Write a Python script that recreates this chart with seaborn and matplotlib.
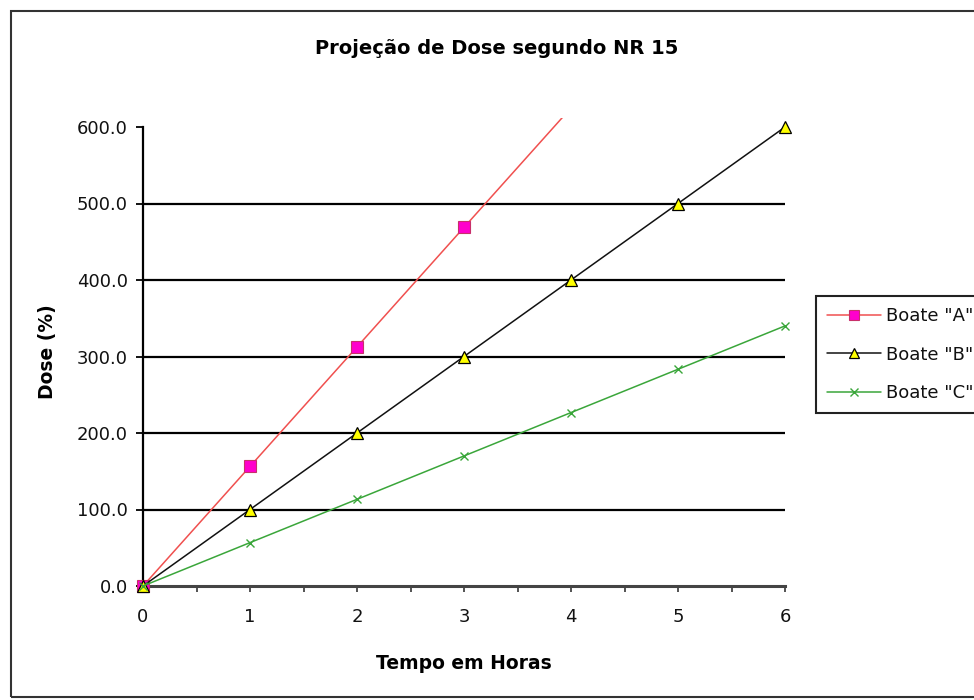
import matplotlib
matplotlib.use("Agg")
import matplotlib.pyplot as plt
import seaborn as sns
import pandas as pd
from matplotlib.lines import Line2D
from matplotlib.patches import Rectangle
from matplotlib.ticker import MultipleLocator, FormatStrFormatter

# ---- data ----
hours = [0, 1, 2, 3, 4, 5, 6]
hours_a = [0, 1, 2, 3, 4]
dose_a = [0.0, 156.3, 312.5, 468.8, 625.0]   # last value runs past the top of the plot
dose_b = [0.0, 100.0, 200.0, 300.0, 400.0, 500.0, 600.0]
dose_c = [0.0, 56.7, 113.3, 170.0, 226.7, 283.3, 340.0]
labels = ['Boate "A"', 'Boate "B"', 'Boate "C"']
title = "Projeção de Dose segundo NR 15"
xlabel = "Tempo em Horas"
ylabel = "Dose (%)"

sns.set_style("white")
plt.rcParams['font.family'] = ['DejaVu Sans']
plt.rcParams['text.color'] = 'black'
plt.rcParams['axes.labelcolor'] = 'black'

W, H = 974, 700
fig = plt.figure(figsize=(W / 100, H / 100), dpi=100)
fig.patch.set_facecolor("white")

# outer chart border
fig.add_artist(Rectangle((11 / W, 1 - 697 / H), (995 - 11) / W, (697 - 11) / H,
                         transform=fig.transFigure, fill=False,
                         edgecolor="#333333", linewidth=1.5))

ax_left, ax_right = 143, 785
y0_px, ytop_px = 586, 118
ax = fig.add_axes([ax_left / W, 1 - y0_px / H, (ax_right - ax_left) / W, (y0_px - ytop_px) / H])
ax.set_facecolor("white")

df_a = pd.DataFrame({"x": hours_a, "y": dose_a})
df_b = pd.DataFrame({"x": hours, "y": dose_b})
df_c = pd.DataFrame({"x": hours, "y": dose_c})

col_a_line = "#F0504F"
col_a_face = "#FF00CC"
col_a_edge = "#C8306A"
col_b_line = "#111111"
col_c_line = "#3AA63A"

# gridlines 100..500
for gy in [100, 200, 300, 400, 500]:
    ax.axhline(gy, color="black", linewidth=1.6, zorder=1)

# series A: line (clipped at top) + markers on measured points
sns.lineplot(data=df_a, x="x", y="y", ax=ax, color=col_a_line, linewidth=1.1,
             zorder=3, legend=False)
ma = ax.plot(hours_a[:4], dose_a[:4], linestyle="none", marker="s", markersize=8,
             markerfacecolor=col_a_face, markeredgecolor=col_a_edge,
             markeredgewidth=0.8, zorder=4)
for l in ma:
    l.set_clip_on(False)

# series B
sns.lineplot(data=df_b, x="x", y="y", ax=ax, color=col_b_line, linewidth=1.1,
             marker="^", markersize=8, markerfacecolor="#FFFF00",
             markeredgecolor="black", markeredgewidth=0.9, zorder=5, legend=False)
# series C
sns.lineplot(data=df_c, x="x", y="y", ax=ax, color=col_c_line, linewidth=1.1,
             marker="x", markersize=6, markeredgewidth=1.0,
             markeredgecolor=col_c_line, zorder=5, legend=False)
for l in ax.lines[-2:]:
    l.set_clip_on(False)

ax.set_xlim(0, 6)
ax.set_ylim(0, (y0_px - ytop_px) / ((y0_px - 127) / 600))

for s in ["top", "right"]:
    ax.spines[s].set_visible(False)
ax.spines["left"].set_bounds(0, 600)
ax.spines["left"].set_color("black")
ax.spines["left"].set_linewidth(1.6)
ax.spines["bottom"].set_color("#444444")
ax.spines["bottom"].set_linewidth(2.2)
ax.spines["left"].set_zorder(2)

ax.yaxis.set_major_locator(MultipleLocator(100))
ax.yaxis.set_major_formatter(FormatStrFormatter("%.1f"))
ax.xaxis.set_major_locator(MultipleLocator(1))
ax.xaxis.set_minor_locator(MultipleLocator(0.5))
ax.tick_params(axis="y", which="major", direction="out", length=5, width=1.3,
               color="black", labelsize=13, pad=6, labelcolor="#111111", left=True)
ax.tick_params(axis="x", which="major", direction="out", length=4, width=1.3,
               color="#444444", labelsize=13, pad=12, labelcolor="#111111", bottom=True)
ax.tick_params(axis="x", which="minor", direction="out", length=4, width=1.3,
               color="#444444", bottom=True)

ax.set_xlabel(xlabel, fontsize=13.5, fontweight="bold", labelpad=20, color="black")
ax.set_ylabel(ylabel, fontsize=13.5, fontweight="bold", labelpad=14, color="black")

fig.text(497 / W, 1 - 48 / H, title, ha="center", va="center",
         fontsize=14, fontweight="bold", color="black")

handles = [
    Line2D([0], [0], color=col_a_line, linewidth=1.1, marker="s", markersize=7,
           markerfacecolor=col_a_face, markeredgecolor=col_a_edge, markeredgewidth=0.8),
    Line2D([0], [0], color=col_b_line, linewidth=1.1, marker="^", markersize=7,
           markerfacecolor="#FFFF00", markeredgecolor="black", markeredgewidth=0.9),
    Line2D([0], [0], color=col_c_line, linewidth=1.1, marker="x", markersize=6,
           markeredgecolor=col_c_line, markeredgewidth=1.0),
]
leg = fig.legend(handles, labels, loc="upper left",
                 bbox_to_anchor=(816 / W, 1 - 296 / H), bbox_transform=fig.transFigure,
                 borderaxespad=0, fontsize=13, frameon=True, fancybox=False,
                 shadow=False, handlelength=3.0, handletextpad=0.3,
                 labelspacing=1.15, borderpad=0.6)
leg.get_frame().set_edgecolor("#222222")
leg.get_frame().set_linewidth(1.5)
leg.get_frame().set_alpha(1)
for t in leg.get_texts():
    t.set_color("#111111")

fig.savefig("out.png", dpi=100, facecolor="white")
